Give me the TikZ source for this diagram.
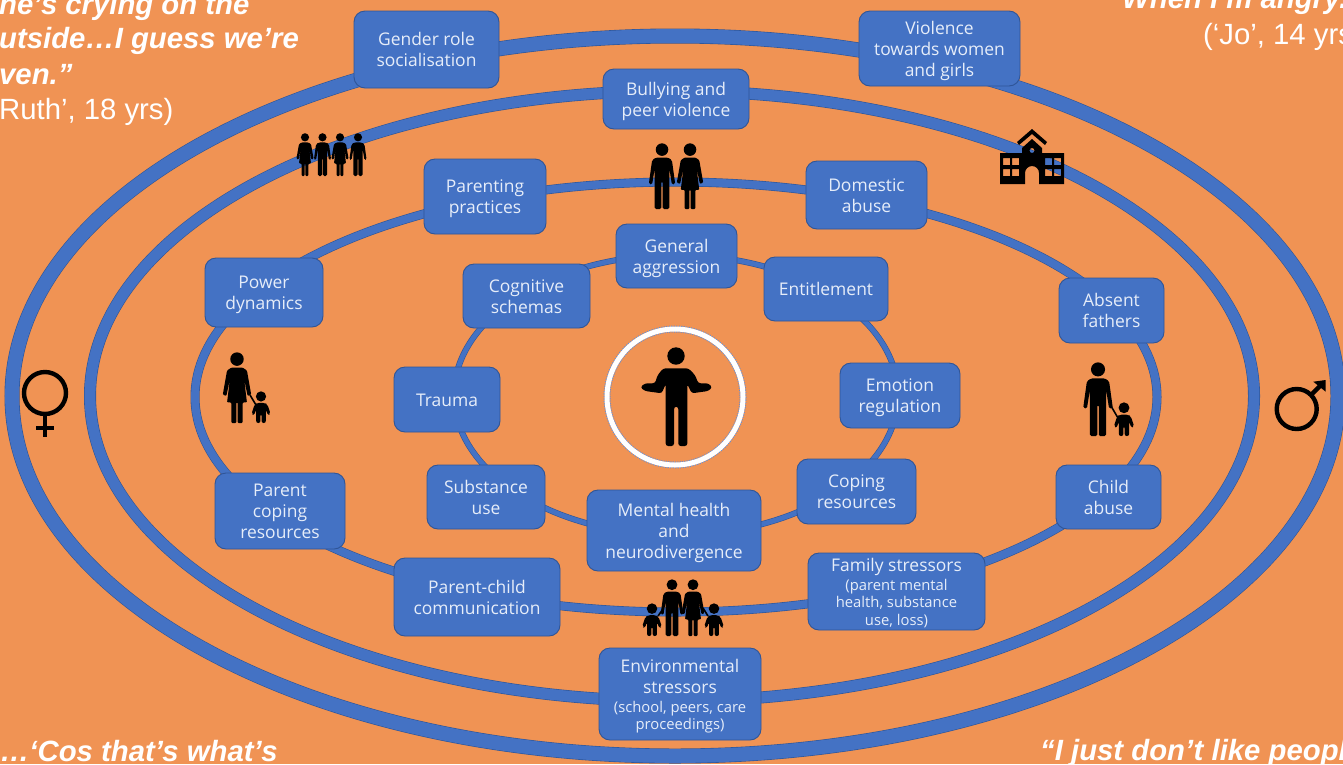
\documentclass[tikz,border=0pt]{standalone}
\usepackage{fontspec}
\setmainfont{Liberation Sans}
\newfontfamily\lab{Open Sans}
\definecolor{bgor}{HTML}{F09354}
\definecolor{ringb}{HTML}{4472C4}
\definecolor{ringd}{HTML}{2F5597}
\definecolor{labtxt}{HTML}{E6EDF9}
\newcommand{\smlab}{\fontsize{14.8}{17.5}\selectfont}
\newcommand{\lns}[1]{\raisebox{-2.6pt}[\height][\depth]{\begin{tabular}{@{}c@{}}#1\end{tabular}}}
\tikzset{
 nodebox/.style={draw=ringd,line width=0.9pt,fill=ringb,rounded corners=11pt,text=labtxt,align=center,inner sep=0pt,font=\lab\fontsize{17.45}{21}\selectfont},
 quote/.style={text=white,anchor=base west,inner sep=0pt,font=\fontsize{29.3}{34}\selectfont\bfseries\itshape},
 attrib/.style={text=white,anchor=base west,inner sep=0pt,font=\fontsize{29.3}{34}\selectfont},
 manpic/.pic={
  \fill (0,10) circle (9.5);
  \fill[rounded corners=1.5] (-9,22) -- (-15,26) -- (-20,62) -- (-15,63) -- (-11,38) -- (-11,100) -- (-1,100) -- (-1,58) -- (1,58) -- (1,100) -- (11,100) -- (11,38) -- (15,63) -- (20,62) -- (15,26) -- (9,22) -- cycle;
 },
 womanpic/.pic={
  \fill (0,10) circle (9.5);
  \fill[rounded corners=1] (-8,22) -- (-14,26) -- (-20,60) -- (-15,62) -- (-10,38) -- (-14,71) -- (-8,71) -- (-8,100) -- (-1,100) -- (-1,71) -- (1,71) -- (1,100) -- (8,100) -- (8,71) -- (14,71) -- (10,38) -- (15,62) -- (20,60) -- (14,26) -- (8,22) -- cycle;
 },
 childpic/.pic={
  \fill (0,17) circle (16);
  \fill[rounded corners=2] (-12,37) -- (-20,42) -- (-30,72) -- (-22,76) -- (-15,58) -- (-15,100) -- (-2,100) -- (-2,72) -- (2,72) -- (2,100) -- (15,100) -- (15,58) -- (22,76) -- (30,72) -- (20,42) -- (12,37) -- cycle;
 },
}
\newcommand{\ring}[5]{% cx cy rx ry width
 \draw[ringd,line width=#5pt] (#1,#2) ellipse [x radius=#3,y radius=#4];
 \draw[ringb,line width=#5pt-1.2pt] (#1,#2) ellipse [x radius=#3,y radius=#4];
}
\begin{document}
\begin{tikzpicture}[x=1pt,y=-1pt]
\useasboundingbox (0,0) rectangle (1343,764);
\clip (0,0) rectangle (1343,764);
\fill[bgor] (0,0) rectangle (1343,764);
% rings
\ring{675}{396}{663}{360}{15}
\ring{672}{396}{582}{305}{12}
\ring{676}{397}{481}{215}{9}
\ring{676}{395}{222}{140}{6}
% quotes
\node[quote] (q1) at (-1,14) {he’s crying on the};
\node[quote] (q2) at (-1,48) {utside…I guess we’re};
\node[quote] (q3) at (-1,84) {ven.”};
\node[attrib] (q4) at (-1,119) {Ruth’, 18 yrs)};
\node[quote] (q5) at (1122,8) {When I’m angry.”};
\node[attrib] (q6) at (1203,44) {(‘Jo’, 14 yrs};
\node[quote] (q7) at (0,761) {…‘Cos that’s what’s};
\node[quote] (q8) at (1040,760) {“I just don’t like peopl};
% centre
\draw[ringb!80!white,line width=7pt,dash pattern=on 1.2pt off 1.2pt] (675,397) circle (68);
\draw[white,line width=5pt] (675,397) circle (68);
\fill (676,356) circle (8.7);
\fill[rounded corners=2.5] (663.3,368.3) -- (688.3,368.3) -- (695,375) -- (698.3,383.3) -- (708.3,383.3) -- (712.3,387.3) -- (708.3,391) -- (691.7,393.3) -- (687.3,384) -- (687.3,446) -- (678.3,446) -- (678.3,406.7) -- (674,406.7) -- (674,446) -- (665.7,446) -- (665.7,384) -- (661.7,393.3) -- (645,391) -- (640.3,387.3) -- (645,383.3) -- (655,383.3) -- (657.7,375) -- cycle;
% people icons
\pic[scale=0.43] at (305,133) {womanpic};
\pic[scale=0.43] at (322.5,133) {manpic};
\pic[scale=0.43] at (340,133) {womanpic};
\pic[scale=0.43] at (358,133) {manpic};
\pic[scale=0.66] at (662,143) {manpic};
\pic[scale=0.66] at (690,143) {womanpic};
% parent and child left
\pic[scale=0.71] at (237,352) {womanpic};
\pic[scale=0.32] at (261,391) {childpic};
\draw[line width=1.6pt] (250,395) -- (256,405);
% parent and child right
\pic[scale=0.74] at (1098,362) {manpic};
\pic[scale=0.34] at (1124,402) {childpic};
\draw[line width=1.6pt] (1111,406) -- (1118,418);
% family
\pic[scale=0.57] at (672,579) {manpic};
\pic[scale=0.57] at (693,579) {womanpic};
\pic[scale=0.33] at (652,603) {childpic};
\pic[scale=0.33] at (714,603) {childpic};
\draw[line width=1.6pt] (658,616) -- (663,609);
\draw[line width=1.6pt] (703,608) -- (708,616);
% school
\fill (1032,129) -- (1047,142) -- (1045,145) -- (1032,134) -- (1019,145) -- (1017,142) -- cycle;
\fill[even odd rule] (1000,153) -- (1022,153) -- (1022,148) -- (1032,139) -- (1042,148) -- (1042,153) -- (1064,153) -- (1064,184) -- (1039,184) -- (1039,173) arc (0:-180:7) -- (1025,184) -- (1000,184) -- cycle
 (1003,158) rectangle (1010,165) (1012,158) rectangle (1019,165)
 (1003,169) rectangle (1010,176) (1012,169) rectangle (1019,176)
 (1045,158) rectangle (1052,165) (1054,158) rectangle (1061,165)
 (1045,169) rectangle (1052,176) (1054,169) rectangle (1061,176)
 (1032,150.5) circle (2.5);
% gender signs
\draw[line width=4.4pt] (45,393) circle (21);
\draw[line width=4.4pt] (45,414) -- (45,437);
\draw[line width=4.4pt] (36,428) -- (54,428);
\draw[line width=4.4pt] (1296.7,409) circle (20);
\draw[line width=4.4pt] (1311,395) -- (1321,385);
\fill (1313.3,381.7) -- (1325.7,380) -- (1325.7,391.7) -- cycle;
% labels
\node[nodebox,minimum width=145pt,minimum height=77pt] (gender) at (426.5,49.5) {\lns{Gender role\\socialisation}};
\node[nodebox,minimum width=161pt,minimum height=75pt] (violence) at (939.5,48.5) {\lns{Violence\\towards women\\and girls}};
\node[nodebox,minimum width=146pt,minimum height=60pt] (bullying) at (676,99) {\lns{Bullying and\\peer violence}};
\node[nodebox,minimum width=122pt,minimum height=75pt] (parenting) at (485,196.5) {\lns{Parenting\\practices}};
\node[nodebox,minimum width=121pt,minimum height=68pt] (domestic) at (866.5,195) {\lns{Domestic\\abuse}};
\node[nodebox,minimum width=121pt,minimum height=64pt] (general) at (676.5,256) {\lns{General\\aggression}};
\node[nodebox,minimum width=127pt,minimum height=64pt] (cognitive) at (526.5,296) {\lns{Cognitive\\schemas}};
\node[nodebox,minimum width=124pt,minimum height=64pt] (entitlement) at (826,289) {\lns{Entitlement}};
\node[nodebox,minimum width=118pt,minimum height=69pt] (power) at (264,292.5) {\lns{Power\\dynamics}};
\node[nodebox,minimum width=105pt,minimum height=65pt] (absent) at (1111.5,310.5) {\lns{Absent\\fathers}};
\node[nodebox,minimum width=106pt,minimum height=65pt] (trauma) at (447,399.5) {\lns{Trauma}};
\node[nodebox,minimum width=120pt,minimum height=65pt] (emotion) at (900,395.5) {\lns{Emotion\\regulation}};
\node[nodebox,minimum width=118pt,minimum height=64pt] (substance) at (486,497) {\lns{Substance\\use}};
\node[nodebox,minimum width=119pt,minimum height=65pt] (coping) at (856.5,491.5) {\lns{Coping\\resources}};
\node[nodebox,minimum width=105pt,minimum height=64pt] (child) at (1108.5,497) {\lns{Child\\abuse}};
\node[nodebox,minimum width=130pt,minimum height=76pt] (parentcoping) at (280,511) {\lns{Parent\\coping\\resources}};
\node[nodebox,minimum width=174pt,minimum height=81pt] (mental) at (674,530.5) {\lns{Mental health\\and\\neurodivergence}};
\node[nodebox,minimum width=166pt,minimum height=78pt] (parentchild) at (477,597) {\lns{Parent-child\\communication}};
\node[nodebox,minimum width=177pt,minimum height=77pt] (family) at (896.5,591.5) {\lns{Family stressors\\[-2pt]\smlab (parent mental\\[-3.5pt]\smlab health, substance\\[-3.5pt]\smlab use, loss)}};
\node[nodebox,minimum width=162pt,minimum height=92pt] (environmental) at (680,694) {\lns{Environmental\\stressors\\[-2pt]\smlab (school, peers, care\\[-3.5pt]\smlab proceedings)}};
\end{tikzpicture}
\end{document}
